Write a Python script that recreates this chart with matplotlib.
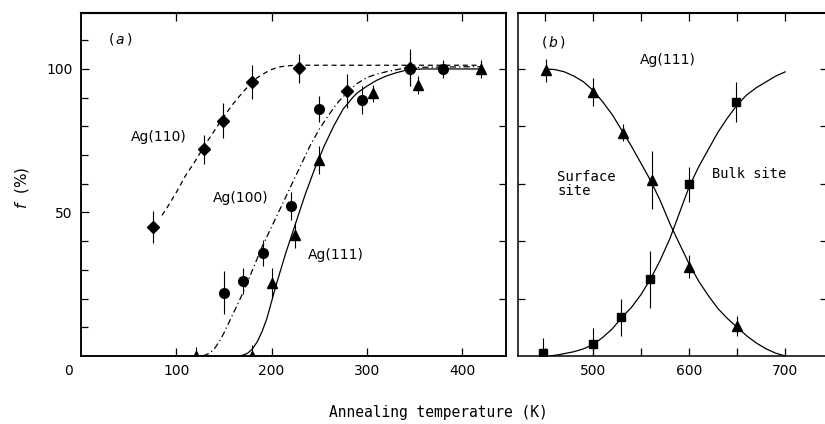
import matplotlib
matplotlib.use("Agg")
import matplotlib.pyplot as plt
from matplotlib.transforms import blended_transform_factory

# ---------------- data: panel (a) ----------------
k110 = [76, 129, 149, 179, 229, 279, 345]
f110 = [45, 72, 82, 95.5, 100.2, 92.4, 100.5]
e110 = [5.5, 5, 6, 6, 5, 6, 6.5]

k100 = [150, 170, 191, 220, 250, 295, 345, 380]
f100 = [22, 26, 36, 52.3, 86, 89.2, 100, 100]
e100 = [7.5, 4.5, 4.5, 5, 4.5, 5, 6, 3]

k111 = [121, 179, 200, 225, 250, 306, 354, 420]
f111 = [0, 0, 25.5, 42.2, 68.3, 91.5, 94.4, 100]
e111_lo = [0, 0, 5, 4.6, 5, 3, 3, 3]
e111_hi = [3, 4, 5, 4.6, 5, 3, 3, 3]

# fitted curves
c110_k = [85, 90, 100, 110, 120, 130, 140, 150, 160, 170, 180, 185, 190, 195, 200,
          205, 210, 220, 230, 420]
c110_f = [49, 51.5, 57, 63, 68, 73.5, 78.5, 83.5, 88, 92, 95.5, 97, 98, 99, 99.8,
          100.4, 100.8, 101.2, 101.3, 101.3]

c100_k = [128, 135, 140, 145, 150, 155, 160, 165, 170, 175, 180, 185, 190, 200, 210,
          220, 230, 240, 250, 255, 260, 265, 270, 275, 280, 285, 290, 300, 310, 320,
          330, 340, 360, 420]
c100_f = [0, 1, 2.5, 5, 8, 11.5, 15, 18.5, 22, 26, 30, 34, 38, 45, 52,
          59, 66, 73, 79, 81.5, 84, 86.3, 88.5, 90.3, 92, 93.6, 95, 97, 98.2, 99,
          99.7, 100.3, 100.6, 100.8]

c111_k = [165, 170, 175, 180, 185, 190, 195, 200, 205, 210, 215, 220, 225, 230, 235,
          240, 245, 250, 255, 260, 265, 270, 275, 280, 285, 290, 300, 310, 320, 330,
          340, 350, 360, 420]
c111_f = [0, 0.3, 1, 2.5, 5, 8.5, 13, 19, 25, 30.5, 36, 41, 46, 51, 56,
          60.5, 65, 69, 73, 76.5, 80, 83, 86, 88, 90, 91.7, 94, 96, 97.5, 98.6,
          99.5, 99.9, 100, 100]

# ---------------- data: panel (b) ----------------
ks = [451, 500, 531, 561, 600, 650]
fs = [99.6, 92, 77.8, 61.3, 31.1, 10.4]
es = [4, 5, 3, 10, 4, 3.5]

kb = [448, 500, 529, 559, 600, 649]
fb = [1.1, 4.2, 13.5, 26.7, 59.8, 88.6]
eb_lo = [1.1, 4, 6.5, 10, 6, 7]
eb_hi = [5, 5.5, 6.5, 10, 6, 7]

cs_k = [450, 460, 470, 480, 490, 500, 510, 520, 530, 540, 550, 560, 570, 580, 590,
        600, 610, 620, 630, 640, 650, 660, 670, 680, 690, 700]
cs_f = [100, 99.8, 99, 97.5, 95.5, 92.5, 88.5, 84, 78.5, 73, 67, 61, 54, 46, 39,
        32, 26, 21, 16.5, 13, 10, 7, 4.5, 2.5, 1, 0]

cb_k = [455, 465, 480, 490, 500, 510, 520, 530, 540, 550, 560, 570, 580, 590, 600,
        610, 620, 630, 640, 650, 660, 670, 680, 690, 700]
cb_f = [0, 0.5, 1.5, 2.5, 4, 6.5, 9.5, 13.5, 17, 21.5, 27, 33.5, 41, 50, 59,
        66, 72, 78, 83, 87.5, 91, 93.5, 95.5, 97.5, 99]

xt_a = [100, 200, 300, 400]
xt_b_major = [500, 600, 700]
xt_b_all = [450, 500, 550, 600, 650, 700]

# ---------------- figure ----------------
W, H = 825, 424
fig = plt.figure(figsize=(W / 100, H / 100), dpi=100)
plt.rcParams['font.family'] = ['DejaVu Sans']

def frac(x0, x1, ytop, ybot):
    return [x0 / W, (H - ybot) / H, (x1 - x0) / W, (ybot - ytop) / H]

axa = fig.add_axes(frac(81, 506, 13, 356))
axb = fig.add_axes(frac(518, 827, 13, 356))

YMAX = 119.5
lw = 0.9
ms_kw = dict(color='black', ecolor='black', elinewidth=0.8, capsize=0, linestyle='none')

# panel (a) curves
axa.plot(c110_k, c110_f, color='black', lw=lw, dashes=(4, 3))
axa.plot(c100_k, c100_f, color='black', lw=lw, dashes=(5, 2.5, 1, 2.5))
axa.plot(c111_k, c111_f, color='black', lw=lw)

axa.errorbar(k110, f110, yerr=e110, fmt='D', ms=6.5, **ms_kw)
axa.errorbar(k100, f100, yerr=e100, fmt='o', ms=7, **ms_kw)
axa.errorbar(k111, f111, yerr=[e111_lo, e111_hi], fmt='^', ms=7, **ms_kw)

axa.set_xlim(0, 446)
axa.set_ylim(0, YMAX)
axa.set_xticks(xt_a)
axa.set_xticklabels([str(v) for v in xt_a])
axa.set_yticks([50, 100])
axa.set_yticklabels(['50', '100'])
axa.set_yticks(list(range(10, 120, 10)), minor=True)
axa.tick_params(axis='both', which='both', direction='in', top=True, right=False,
                labelsize=10, pad=6, width=0.9)
axa.tick_params(axis='both', which='major', length=6)
axa.tick_params(axis='y', which='minor', length=5)
axa.tick_params(axis='x', which='minor', bottom=False, top=False)
tr = blended_transform_factory(axa.transData, axa.transAxes)
axa.text(-13, -0.045, '0', transform=tr, ha='center', va='center', fontsize=10)

axa2 = axa.twinx()
axa2.set_ylim(0, YMAX)
axa2.set_yticks([20, 40, 60, 80, 100])
axa2.set_yticklabels([])
axa2.tick_params(axis='y', direction='in', length=5, width=0.9)

for ax in (axa, axa2, axb):
    for s in ax.spines.values():
        s.set_linewidth(1.1)
    ax.spines['top'].set_linewidth(1.5)

def ax_(px):
    return (px - 80.7) / 0.953

def fy(py):
    return (356 - py) / 2.87

axa.text(ax_(120), fy(39), r'$(\,a\,)$', ha='center', va='center', fontsize=10)
axa.text(ax_(158), fy(137), 'Ag(110)', ha='center', va='center', fontsize=10)
axa.text(ax_(240), fy(198), 'Ag(100)', ha='center', va='center', fontsize=10)
axa.text(ax_(336), fy(255), 'Ag(111)', ha='center', va='center', fontsize=10)

# panel (b)
axb.plot(cs_k, cs_f, color='black', lw=lw)
axb.plot(cb_k, cb_f, color='black', lw=lw)
axb.errorbar(ks, fs, yerr=es, fmt='^', ms=7, **ms_kw)
axb.errorbar(kb, fb, yerr=[eb_lo, eb_hi], fmt='s', ms=6, **ms_kw)

axb.set_xlim(421.7, 743.5)
axb.set_ylim(0, YMAX)
axb.set_xticks(xt_b_all)
axb.set_xticklabels([str(v) if v in xt_b_major else '' for v in xt_b_all])
axb.set_yticks([20, 40, 60, 80, 100])
axb.set_yticklabels([])
axb.tick_params(axis='both', direction='in', top=True, right=True, length=6,
                labelsize=10, pad=6, width=0.9)
axb.tick_params(axis='y', length=5)

def bx(px):
    return 500 + (px - 593) / 0.958

axb.text(bx(553), fy(42), r'$(\,b\,)$', ha='center', va='center', fontsize=10)
axb.text(bx(667), fy(60), 'Ag(111)', ha='center', va='center', fontsize=10)
axb.text(bx(557), fy(184), 'Surface\nsite', ha='left', va='center',
         fontsize=10, family='DejaVu Sans Mono', linespacing=1.05)
axb.text(bx(712), fy(174), 'Bulk site', ha='left', va='center',
         fontsize=9.8, family='DejaVu Sans Mono')

fig.text(438 / W, 1 - 413 / H, 'Annealing temperature (K)', ha='center', va='center',
         fontsize=10.5, family='DejaVu Sans Mono')
fig.text(22 / W, 1 - 188 / H, r'$f$  (%)', ha='center', va='center', rotation=90, fontsize=11)

fig.savefig('out.png', dpi=100)
